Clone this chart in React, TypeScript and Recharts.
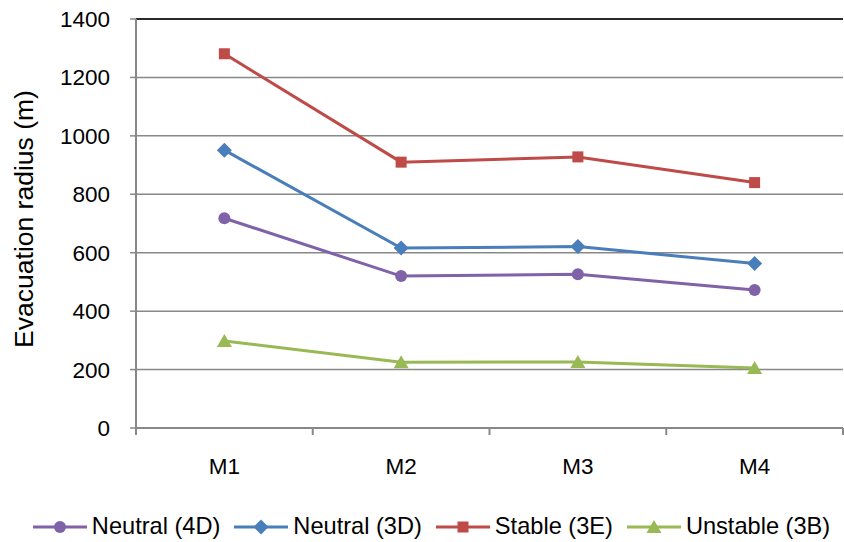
import React from "react"
import {
  LineChart, Line, XAxis, YAxis, CartesianGrid, Legend, ReferenceLine,
} from "recharts"

// categories and series
const categories = ["M1", "M2", "M3", "M4"]
const neutral4D  = [718, 520, 526, 472]
const neutral3D  = [951, 616, 621, 563]
const stable3E   = [1281, 910, 928, 840]
const unstable3B = [298, 225, 226, 205]
const yTicks     = [0, 200, 400, 600, 800, 1000, 1200, 1400]

const FONT = "'Liberation Sans', Arial, sans-serif"
const AXIS = "#888888"

const SERIES = [
  { key: "n4d", name: "Neutral (4D)",  color: "#7F62A8", shape: "circle" },
  { key: "n3d", name: "Neutral (3D)",  color: "#4A7EBB", shape: "diamond" },
  { key: "s3e", name: "Stable (3E)",   color: "#BE4B48", shape: "square" },
  { key: "u3b", name: "Unstable (3B)", color: "#98B954", shape: "triangle" },
]

// x is numeric so the tick marks fall between categories like in Excel
const data = categories.map((c, i) => ({
  x: i + 0.5,
  cat: c,
  n4d: neutral4D[i],
  n3d: neutral3D[i],
  s3e: stable3E[i],
  u3b: unstable3B[i],
}))

const xTicks = [0, 0.5, 1, 1.5, 2, 2.5, 3, 3.5, 4]

function Marker({ cx, cy, shape, color }: any) {
  if (cx == null || cy == null) return null
  if (shape === "circle") return <circle cx={cx} cy={cy} r={6} fill={color} />
  if (shape === "diamond")
    return <polygon points={`${cx},${cy - 7.5} ${cx + 7.5},${cy} ${cx},${cy + 7.5} ${cx - 7.5},${cy}`} fill={color} />
  if (shape === "square") return <rect x={cx - 5.5} y={cy - 5.5} width={11} height={11} fill={color} />
  return <polygon points={`${cx},${cy - 7} ${cx + 7.5},${cy + 6} ${cx - 7.5},${cy + 6}`} fill={color} />
}

function XTick({ x, y, payload }: any) {
  const v = payload.value
  if (Number.isInteger(v)) {
    return <line x1={x} y1={y} x2={x} y2={y + 7} stroke={AXIS} strokeWidth={2} />
  }
  const label = categories[Math.floor(v)]
  return (
    <text x={x} y={y + 46} textAnchor="middle" fill="#000" fontSize={22.5} fontFamily={FONT}>
      {label}
    </text>
  )
}

function LegendBox() {
  return (
    <div style={{ display: "flex", justifyContent: "center", alignItems: "center", gap: 14,
      fontFamily: FONT, fontSize: 23.6, color: "#000", paddingLeft: 20, paddingTop: 15 }}>
      {SERIES.map(s => (
        <div key={s.key} style={{ display: "flex", alignItems: "center", gap: 5 }}>
          <svg width={54} height={20}>
            <line x1={0} y1={10} x2={54} y2={10} stroke={s.color} strokeWidth={3} />
            <Marker cx={27} cy={10} shape={s.shape} color={s.color} />
          </svg>
          <span>{s.name}</span>
        </div>
      ))}
    </div>
  )
}

export default function App() {
  return (
    <div style={{ position: "absolute", left: 0, top: 0, background: "#fff" }}>
      <LineChart width={844} height={542} data={data}
        margin={{ top: 19, right: 1, left: 0, bottom: 0 }}>
        <CartesianGrid vertical={false} stroke={AXIS} strokeWidth={1.5} />
        <ReferenceLine y={1400} stroke="#000" strokeWidth={1.5} />
        <XAxis dataKey="x" type="number" domain={[0, 4]} ticks={xTicks}
          interval={0} tick={<XTick />} tickLine={false} tickSize={0} tickMargin={0}
          axisLine={{ stroke: AXIS, strokeWidth: 2 }} height={70} />
        <YAxis domain={[0, 1400]} ticks={yTicks} width={136} interval={0}
          tick={{ fontSize: 22.5, fill: "#000", fontFamily: FONT }}
          tickLine={{ stroke: AXIS, strokeWidth: 1.5 }} tickSize={6} tickMargin={20}
          axisLine={{ stroke: AXIS, strokeWidth: 2 }}
          label={{
            content: () => (
              <text transform="translate(33,219) rotate(-90)" textAnchor="middle"
                fontSize={26.5} fontFamily={FONT} fill="#000">
                Evacuation radius (m)
              </text>
            ),
          }} />
        <Legend verticalAlign="bottom" height={44} content={<LegendBox />} />
        {SERIES.map(s => (
          <Line key={s.key} dataKey={s.key} name={s.name} type="linear"
            stroke={s.color} strokeWidth={3}
            dot={(p: any) => <Marker key={`${s.key}-${p.index}`} cx={p.cx} cy={p.cy} shape={s.shape} color={s.color} />}
            activeDot={false} isAnimationActive={false} />
        ))}
      </LineChart>
    </div>
  )
}
